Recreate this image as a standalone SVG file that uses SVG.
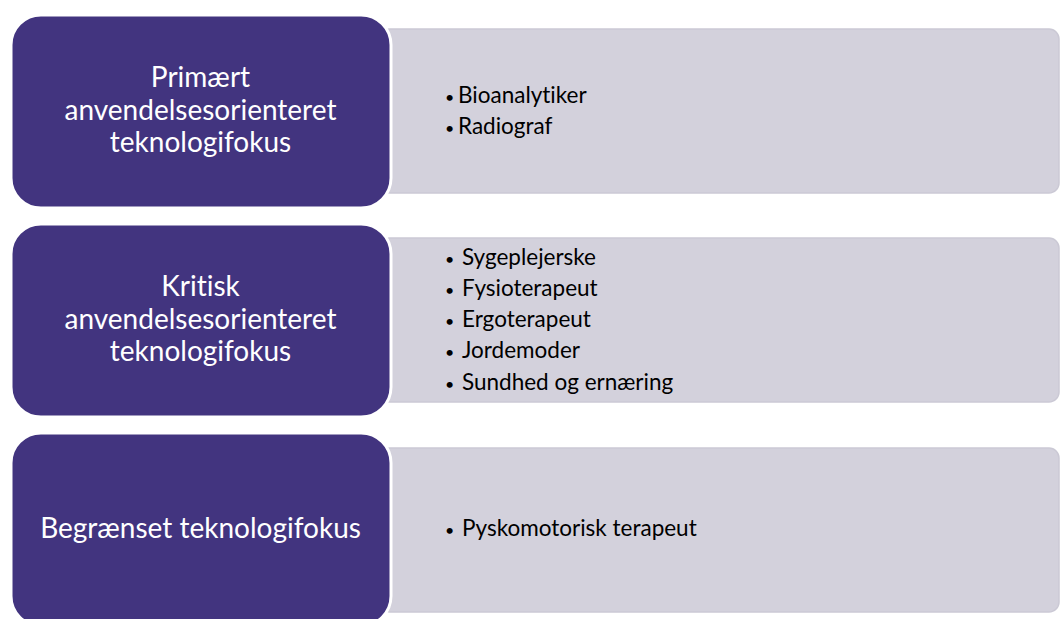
<svg xmlns="http://www.w3.org/2000/svg" width="1060" height="619" viewBox="0 0 1060 619">
<style>
.bg{fill:#d3d1dc;stroke:#cbc9d5;stroke-width:1.5}
.hd{fill:#42347f;stroke:#ffffff;stroke-width:3}
.ht{font-family:Lato,"Liberation Sans",sans-serif;font-size:28px;fill:#ffffff;text-anchor:middle;font-variant-ligatures:none}
.it{font-family:Lato,"Liberation Sans",sans-serif;font-size:22.5px;fill:#000000;font-variant-ligatures:none}
.b{font-size:16px}
</style>
<rect width="1060" height="619" fill="#ffffff"/>
<g id="row1">
<rect class="bg" x="380" y="29" width="679" height="164" rx="10"/>
<rect class="hd" x="11" y="15" width="380" height="193" rx="30"/>
<text class="ht" x="200.5" y="87">Primært</text>
<text class="ht" x="200.5" y="120">anvendelsesorienteret</text>
<text class="ht" x="200.5" y="152">teknologifokus</text>
<text class="it" y="103"><tspan class="b" x="445">•</tspan><tspan x="458">Bioanalytiker</tspan></text>
<text class="it" y="134"><tspan class="b" x="445">•</tspan><tspan x="458">Radiograf</tspan></text>
</g>
<g id="row2">
<rect class="bg" x="380" y="238" width="679" height="164" rx="10"/>
<rect class="hd" x="11" y="224" width="380" height="193" rx="30"/>
<text class="ht" x="200.5" y="296">Kritisk</text>
<text class="ht" x="200.5" y="329">anvendelsesorienteret</text>
<text class="ht" x="200.5" y="361">teknologifokus</text>
<text class="it" y="265"><tspan class="b" x="445">•</tspan><tspan x="462">Sygeplejerske</tspan></text>
<text class="it" y="296"><tspan class="b" x="445">•</tspan><tspan x="462">Fysioterapeut</tspan></text>
<text class="it" y="327"><tspan class="b" x="445">•</tspan><tspan x="462">Ergoterapeut</tspan></text>
<text class="it" y="358"><tspan class="b" x="445">•</tspan><tspan x="462">Jordemoder</tspan></text>
<text class="it" y="390"><tspan class="b" x="445">•</tspan><tspan x="462">Sundhed og ernæring</tspan></text>
</g>
<g id="row3">
<rect class="bg" x="380" y="448" width="679" height="164" rx="10"/>
<rect class="hd" x="11" y="433" width="380" height="193" rx="30"/>
<text class="ht" x="200.5" y="538">Begrænset teknologifokus</text>
<text class="it" y="536"><tspan class="b" x="445">•</tspan><tspan x="462">Pyskomotorisk terapeut</tspan></text>
</g>
<g id="connectors"></g>
</svg>
